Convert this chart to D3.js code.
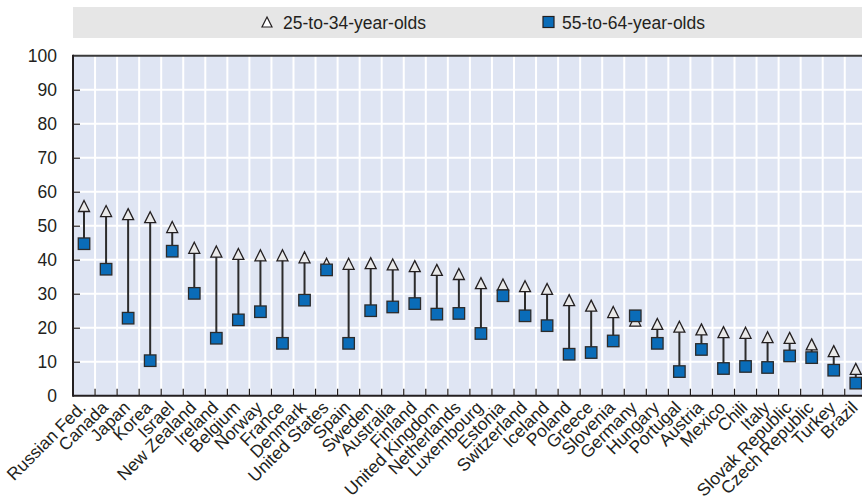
<!DOCTYPE html>
<html><head><meta charset="utf-8">
<script src="https://cdn.jsdelivr.net/npm/d3@7"></script>
<style>
html,body{margin:0;padding:0;background:#fff;}
text{font-family:"Liberation Sans",Arial,sans-serif;fill:#231f20;}
</style></head>
<body><svg id="chart" width="862" height="502"></svg>
<script>
const countries = ["Russian Fed.","Canada","Japan","Korea","Israel","New Zealand","Ireland","Belgium","Norway","France","Denmark","United States","Spain","Sweden","Australia","Finland","United Kingdom","Netherlands","Luxembourg","Estonia","Switzerland","Iceland","Poland","Greece","Slovenia","Germany","Hungary","Portugal","Austria","Mexico","Chili","Italy","Slovak Republic","Czech Republic","Turkey","Brazil"];
const young = [55.8,54.3,53.4,52.5,49.6,43.5,42.4,41.7,41.3,41.3,40.7,38.8,38.8,39.0,38.6,38.1,37.0,35.8,33.1,32.7,32.2,31.4,28.1,26.5,24.6,22.1,21.1,20.3,19.5,18.7,18.5,17.2,17.0,15.1,13.1,7.9];
const old = [44.7,37.2,22.8,10.3,42.5,30.1,16.9,22.3,24.7,15.4,28.1,37.0,15.4,25.0,26.1,27.1,24.0,24.2,18.3,29.4,23.5,20.6,12.2,12.7,16.1,23.5,15.4,7.1,13.6,8.0,8.6,8.3,11.7,11.2,7.5,3.7];
const yTicks = [0,10,20,30,40,50,60,70,80,90,100];
const seriesNames = ["25-to-34-year-olds","55-to-64-year-olds"];

const data = countries.map((c,i)=>({c, y:young[i], o:old[i]}));
const svg = d3.select("#chart");
const pLeft = 73, step = 22.05, pTop = 55.7, pBottom = 395.7;
const x = d3.scaleBand().domain(countries).range([pLeft, pLeft + step*countries.length]).padding(0);
const y = d3.scaleLinear().domain([0,100]).range([pBottom, pTop]);
const pRight = x.range()[1];

const dark = "#231f20", blue = "#0a6cb8", triFill = "#e9e9e9";
const FS = 17.5;

// legend
svg.append("rect").attr("x",73).attr("y",7).attr("width",862-73).attr("height",31).attr("fill","#e6e6e6");
const tri = s => `M0,${-s}L${s},${s}L${-s},${s}Z`;
svg.append("path").attr("d",tri(5)).attr("transform","translate(267,22)")
  .attr("fill","#fff").attr("stroke",dark).attr("stroke-width",1.2);
svg.append("text").attr("x",283).attr("y",28.5).attr("font-size",FS).text(seriesNames[0]);
svg.append("rect").attr("x",543).attr("y",16.5).attr("width",11).attr("height",11)
  .attr("fill",blue).attr("stroke",dark).attr("stroke-width",1.2);
svg.append("text").attr("x",562).attr("y",28.5).attr("font-size",FS).text(seriesNames[1]);

// plot background
svg.append("rect").attr("x",pLeft).attr("y",pTop).attr("width",pRight-pLeft).attr("height",pBottom-pTop).attr("fill","#dfe5f3");

// grid
svg.append("g").selectAll("line").data(yTicks.filter(t=>t>0&&t<100)).join("line")
  .attr("x1",pLeft).attr("x2",pRight).attr("y1",d=>y(d)).attr("y2",d=>y(d))
  .attr("stroke","#fff").attr("stroke-width",2);
svg.append("g").selectAll("line").data(countries.slice(1)).join("line")
  .attr("x1",d=>x(d)).attr("x2",d=>x(d)).attr("y1",pTop).attr("y2",pBottom)
  .attr("stroke","#fff").attr("stroke-width",2);

// y axis
const yAxis = d3.axisLeft(y).tickValues(yTicks).tickSize(-7).tickPadding(16).tickFormat(d3.format("d"));
const gy = svg.append("g").attr("transform",`translate(${pLeft},0)`).call(yAxis);
gy.select(".domain").remove();
gy.attr("font-family",null);
gy.selectAll(".tick line").attr("stroke",dark).attr("stroke-width",1.2);
gy.selectAll(".tick text").attr("font-size",FS).attr("fill",dark).attr("dy","0.35em");
gy.selectAll(".tick").filter(d=>d===0||d===100).select("line").remove();

// x axis ticks at band boundaries
svg.append("g").selectAll("line").data(countries.slice(1)).join("line")
  .attr("x1",d=>x(d)).attr("x2",d=>x(d)).attr("y1",pBottom).attr("y2",pBottom-7)
  .attr("stroke",dark).attr("stroke-width",1.2);

// frame
svg.append("line").attr("x1",pLeft).attr("x2",pRight).attr("y1",pTop).attr("y2",pTop).attr("stroke","#3a3a3a").attr("stroke-width",2);
svg.append("line").attr("x1",pLeft).attr("x2",pRight).attr("y1",pBottom).attr("y2",pBottom).attr("stroke",dark).attr("stroke-width",2);
svg.append("line").attr("x1",pLeft).attr("x2",pLeft).attr("y1",pTop-1).attr("y2",pBottom+1).attr("stroke",dark).attr("stroke-width",2);

// x labels
const xAxis = d3.axisBottom(x).tickSize(0).tickPadding(0);
const gx = svg.append("g").attr("transform",`translate(0,${pBottom})`).call(xAxis);
gx.select(".domain").remove();
gx.attr("font-family",null);
gx.selectAll(".tick text").attr("font-size",FS).attr("fill",dark)
  .attr("text-anchor","end").attr("dy",null).attr("y",null)
  .attr("transform","translate(3,13) rotate(-45)");

// connectors
const cx = d => x(d.c) + x.bandwidth()/2;
svg.append("g").selectAll("line").data(data).join("line")
  .attr("x1",cx).attr("x2",cx).attr("y1",d=>y(d.y)).attr("y2",d=>y(d.o))
  .attr("stroke","#2b2b2b").attr("stroke-width",2);

// triangles
svg.append("g").selectAll("path").data(data).join("path")
  .attr("d",tri(5.5)).attr("transform",d=>`translate(${cx(d)},${y(d.y)})`)
  .attr("fill",triFill).attr("stroke",dark).attr("stroke-width",1.3);
// squares
svg.append("g").selectAll("rect").data(data).join("rect")
  .attr("x",d=>cx(d)-5.75).attr("y",d=>y(d.o)-5.75).attr("width",11.5).attr("height",11.5)
  .attr("fill",blue).attr("stroke","#2b2b2b").attr("stroke-width",1.3);
</script></body></html>
